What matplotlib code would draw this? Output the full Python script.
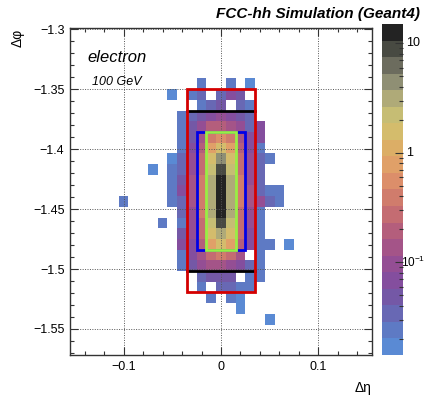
import numpy as np
import matplotlib
matplotlib.use("Agg")
import matplotlib.pyplot as plt
import matplotlib.transforms as mtransforms
from matplotlib.colors import ListedColormap, BoundaryNorm
from matplotlib.patches import Rectangle
from matplotlib.ticker import LogLocator, MultipleLocator, NullFormatter, FixedLocator

plt.rcParams["font.family"] = ["Liberation Sans", "DejaVu Sans"]
plt.rcParams["mathtext.fontset"] = "custom"
plt.rcParams["mathtext.rm"] = "Liberation Sans"
plt.rcParams["mathtext.it"] = "Liberation Sans:italic"
plt.rcParams["mathtext.bf"] = "Liberation Sans:bold"

# cell size of the calorimeter grid
D_ETA = 0.01
D_PHI = 2 * np.pi / 704
PHI_TOP = -1.35  # upper edge of phi row 0

# cell columns (eta index) and rows (phi index, counted downwards)
eta_index = np.arange(-10, 8)
phi_index = np.arange(-1, 22)

# deposited energy per cell, rows follow phi_index, columns follow eta_index
energy = [
    # -10 -9 -8  -7    -6    -5    -4    -3    -2    -1     0     1     2     3     4     5     6     7
    [0, 0, 0, 0, 0, 0, 0, 0, .024, 0, 0, .024, 0, .017, 0, 0, 0, 0],
    [0, 0, 0, 0, 0, .017, 0, .024, .034, 0, .034, .068, .048, 0, 0, 0, 0, 0],
    [0, 0, 0, 0, 0, 0, 0, 0, .024, .034, .048, 0, .034, .024, 0, 0, 0, 0],
    [0, 0, 0, 0, 0, 0, .024, .034, .048, .068, .097, .068, .048, .034, 0, 0, 0, 0],
    [0, 0, 0, 0, 0, 0, .024, .048, .097, .19, .19, .14, .097, .034, .068, 0, 0, 0],
    [0, 0, 0, 0, 0, 0, .024, .048, .14, .39, .55, .39, .14, .068, .068, 0, 0, 0],
    [0, 0, 0, 0, 0, 0, .024, .068, .19, .77, 1.5, .77, .19, .068, .024, 0, 0, 0],
    [0, 0, 0, 0, 0, .017, .034, .097, .27, 1.5, 4.4, 1.5, .27, .097, .034, .024, 0, 0],
    [0, 0, 0, .017, 0, .024, .034, .097, .27, 2.2, 8.7, 2.2, .27, .097, .034, 0, 0, 0],
    [0, 0, 0, 0, 0, .024, .048, .14, .39, 3.1, 12, 3.1, .39, .097, .034, 0, 0, 0],
    [0, 0, 0, 0, 0, .024, .068, .14, .39, 3.1, 14, 3.1, .39, .14, .034, .024, .024, 0],
    [.024, 0, 0, 0, 0, .024, .034, .14, .39, 3.1, 13, 3.1, .39, .14, .097, .034, .024, 0],
    [0, 0, 0, 0, 0, 0, .034, .097, .39, 3.1, 11, 3.1, .27, .097, .024, 0, 0, 0],
    [0, 0, 0, 0, .024, 0, .024, .097, .27, 2.2, 8.7, 2.2, .27, .097, .024, 0, 0, 0],
    [0, 0, 0, 0, 0, 0, .048, .097, .27, 1.5, 3.1, 1.5, .27, .068, .024, 0, 0, 0],
    [0, 0, 0, 0, 0, 0, .068, .068, .19, .77, 1.5, .77, .19, .068, .024, .024, 0, .017],
    [0, 0, 0, 0, 0, 0, .024, .068, .14, .27, .39, .27, .14, 0, .024, 0, 0, 0],
    [0, 0, 0, 0, 0, 0, .024, .048, .097, .14, .14, .097, .068, .034, .024, 0, 0, 0],
    [0, 0, 0, 0, 0, 0, 0, 0, .034, .048, .048, .048, 0, .024, .024, 0, 0, 0],
    [0, 0, 0, 0, 0, 0, 0, 0, .024, 0, .034, .034, .024, .024, 0, 0, 0, 0],
    [0, 0, 0, 0, 0, 0, 0, 0, 0, .024, 0, .024, .017, 0, 0, 0, 0, 0],
    [0, 0, 0, 0, 0, 0, 0, 0, 0, 0, 0, 0, .017, 0, 0, 0, 0, 0],
    [0, 0, 0, 0, 0, 0, 0, 0, 0, 0, 0, 0, 0, 0, 0, .017, 0, 0],
]

# colour palette, lowest level first
palette = [
    "#5a8ad4", "#5e7ac4", "#6868b4", "#7458a6", "#844e9e",
    "#944e94", "#a45488", "#b45e7c", "#c46c72", "#d07c6c",
    "#dc8e6a", "#e0a068", "#dcae66", "#d4bc6c", "#c6bd74",
    "#afaa78", "#8f8f74", "#6c6c5e", "#484a42", "#232323",
]
Z_MIN, Z_MAX = 0.0143, 15.0
cbar_ticks = [0.1, 1, 10]
cbar_labels = ["10$^{\u22121}$", "1", "10"]

# cluster windows: (eta cells, first phi row, phi rows, colour)
windows = [
    (7, 0, 19, "#d40000"),
    (5, 4, 11, "#0000e6"),
    (3, 4, 11, "#99ee44"),
]
window_lines = [2, 17]  # phi rows whose upper edge carries a black line


def phi_of_row(r):
    return PHI_TOP - r * D_PHI


levels = np.logspace(np.log10(Z_MIN), np.log10(Z_MAX), len(palette) + 1)
cmap = ListedColormap(palette)
norm = BoundaryNorm(levels, cmap.N)

fig = plt.figure(figsize=(4.27, 3.96), dpi=100)
ax = fig.add_axes([70 / 427, 41 / 396, 302 / 427, 327 / 396])

x_edges = np.append(eta_index - 0.5, eta_index[-1] + 0.5) * D_ETA
y_edges = phi_of_row(np.append(phi_index, phi_index[-1] + 1))
z = np.ma.masked_less(np.array(energy, dtype=float), Z_MIN)
ax.pcolormesh(x_edges, y_edges, z, cmap=cmap, norm=norm, zorder=1)

ax.set_xlim(-0.155, 0.155)
ax.set_ylim(-1.5717, -1.299)
ax.xaxis.set_major_locator(MultipleLocator(0.1))
ax.xaxis.set_minor_locator(MultipleLocator(0.02))
ax.yaxis.set_major_locator(MultipleLocator(0.05))
ax.yaxis.set_minor_locator(MultipleLocator(0.01))
ax.xaxis.set_major_formatter(plt.FuncFormatter(lambda v, p: f"{v:g}".replace("-", "\u2212")))
ax.yaxis.set_major_formatter(plt.FuncFormatter(lambda v, p: f"{v:g}".replace("-", "\u2212")))
ax.tick_params(which="both", direction="in", top=True, right=True, labelsize=9,
               color="#333333", width=0.8)
ax.tick_params(which="major", length=6, pad=4)
ax.tick_params(which="minor", length=3)
ax.grid(True, which="major", color="#555555", linestyle=(0, (1, 1.5)), linewidth=0.7)
ax.set_axisbelow(False)
for s in ax.spines.values():
    s.set_color("#333333")
    s.set_linewidth(1.0)

for n_eta, row0, n_phi, color in windows:
    ax.add_patch(Rectangle((-n_eta * D_ETA / 2, phi_of_row(row0 + n_phi)),
                           n_eta * D_ETA, n_phi * D_PHI,
                           fill=False, edgecolor=color, linewidth=2.0, zorder=4))
red_half = windows[0][0] * D_ETA / 2
for r in window_lines:
    ax.plot([-red_half, red_half], [phi_of_row(r)] * 2, color="black", linewidth=2.0, zorder=3)
# keep the inner boxes above the black lines
for p in ax.patches[1:]:
    p.set_zorder(5)

ax.text(0.057, 0.895, "electron", transform=ax.transAxes, fontsize=12, style="italic")
ax.text(0.073, 0.825, "100 GeV", transform=ax.transAxes, fontsize=9, style="italic")
fig.text(420 / 427, 1 - 18 / 396, "FCC-hh Simulation (Geant4)", ha="right", va="baseline",
         fontsize=11, weight="bold", style="italic")
fig.text(372 / 427, 1 - 392 / 396, "\u0394\u03b7", ha="right", va="baseline", fontsize=10)
fig.text(25 / 427, 1 - 29 / 396, "\u0394\u03c6", ha="right", va="top", rotation=90, fontsize=10)

# colour bar drawn as a log-scaled strip
cax = fig.add_axes([382 / 427, 41 / 396, 21 / 427, 331 / 396])
mid = np.sqrt(levels[:-1] * levels[1:]).reshape(-1, 1)
cax.pcolormesh([0, 1], levels, mid, cmap=cmap, norm=norm)
cax.set_yscale("log")
cax.set_ylim(Z_MIN, Z_MAX)
cax.set_xlim(0, 1)
cax.set_xticks([])
for s in cax.spines.values():
    s.set_visible(False)
cax.yaxis.tick_right()
cax.yaxis.set_major_locator(FixedLocator(cbar_ticks))
cax.yaxis.set_major_formatter(NullFormatter())
cax.yaxis.set_minor_locator(LogLocator(base=10, subs=np.arange(2, 10)))
cax.yaxis.set_minor_formatter(NullFormatter())
cax.tick_params(which="both", direction="in", color="#333333", width=0.8)
cax.tick_params(which="major", length=6)
cax.tick_params(which="minor", length=3)

# tick labels placed by hand so the last one stays inside the picture
label_tf = mtransforms.blended_transform_factory(fig.transFigure, cax.transData)
for value, text in zip(cbar_ticks, cbar_labels):
    if value < 1:
        cax.text(425 / 427, value, text, transform=label_tf, ha="right", va="center", fontsize=8.5)
    else:
        cax.text(406 / 427, value, text, transform=label_tf, ha="left", va="center", fontsize=9)

fig.savefig("out.png", dpi=100)
